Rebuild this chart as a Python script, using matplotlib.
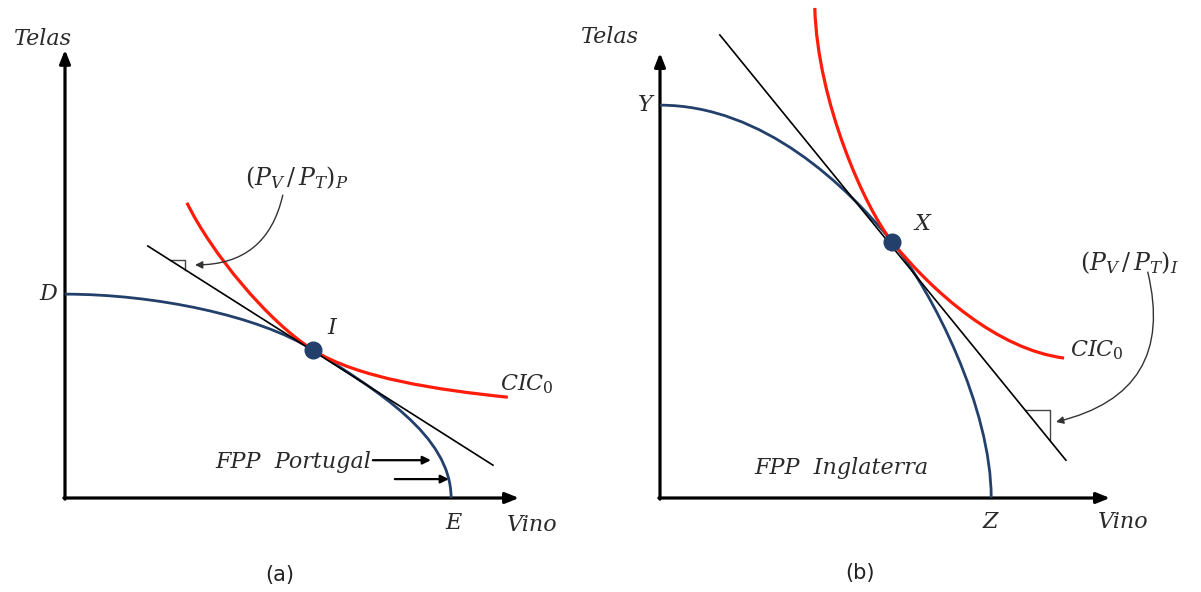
import matplotlib
matplotlib.use('Agg')
import matplotlib.pyplot as plt
from matplotlib.path import Path
from matplotlib.patches import PathPatch

plt.rcParams['mathtext.fontset'] = 'dejavuserif'

NAVY = '#22406b'
RED = '#ff1c0a'

# panel (a): Portugal, units of the drawing grid
a_axis_top = 9.96
a_axis_right = 10.09
a_fpp = [(0.0, 4.53), (2.0, 4.53), (4.31, 4.05), (5.51, 3.29),
         (6.91, 2.40), (8.58, 1.40), (8.58, 0.0)]
a_cic = [(2.71, 6.56), (3.25, 5.45), (4.5, 3.93), (5.51, 3.29),
         (6.5, 2.66), (8.3, 2.4), (9.84, 2.24)]
a_tangent_x = [1.84, 9.51]
a_tangent_y = [5.60, 0.73]
a_point = (5.51, 3.29)
a_box_x = [2.33, 2.67, 2.67]
a_box_y = [5.28, 5.28, 5.06]

# panel (b): Inglaterra
b_axis_top = 9.89
b_axis_right = 10.0
b_fpp = [(0.0, 8.73), (2.3, 8.73), (4.16, 6.92), (5.16, 5.69),
         (6.06, 4.58), (7.36, 2.0), (7.36, 0.0)]
b_cic = [(3.44, 10.89), (3.5, 8.8), (4.56, 6.43), (5.16, 5.69),
         (6.06, 4.58), (7.5, 3.3), (8.98, 3.11)]
b_tangent_x = [1.33, 9.02]
b_tangent_y = [10.29, 0.84]
b_point = (5.16, 5.69)
b_box_x = [8.11, 8.67, 8.67]
b_box_y = [1.96, 1.96, 1.27]


def curve(ax, pts, color, lw):
    codes = [Path.MOVETO] + [Path.CURVE4] * (len(pts) - 1)
    ax.add_patch(PathPatch(Path(pts, codes), facecolor='none', edgecolor=color,
                           lw=lw, capstyle='butt', zorder=3))


def axes_arrows(ax, top, right):
    kw = dict(arrowstyle='-|>,head_length=0.5,head_width=0.2', lw=2.3,
              color='black', mutation_scale=16, shrinkA=0, shrinkB=0)
    ax.annotate('', xy=(0, top), xytext=(0, -0.025), arrowprops=kw)
    ax.annotate('', xy=(right, 0), xytext=(-0.025, 0), arrowprops=kw)


def label(ax, x, y, s, size=16):
    ax.text(x, y, s, fontsize=size, family='DejaVu Serif', style='italic',
            ha='center', va='center', color='#2a2a2a')


def small_arrow(ax, start, end, color='black', lw=1.6, rad=0.0, scale=12):
    ax.annotate('', xy=end, xytext=start,
                arrowprops=dict(arrowstyle='-|>', lw=lw, color=color,
                                mutation_scale=scale, shrinkA=0, shrinkB=0,
                                connectionstyle='arc3,rad=%s' % rad))


fig = plt.figure(figsize=(12.01, 5.92), dpi=100)
ax_a = fig.add_axes([0, 0, 600 / 1201, 1])
ax_b = fig.add_axes([600 / 1201, 0, 601 / 1201, 1])
ax_a.set_xlim(-65 / 45, 535 / 45)
ax_b.set_xlim(-60 / 45, 541 / 45)
for ax in (ax_a, ax_b):
    ax.set_ylim(-94 / 45, 498 / 45)
    ax.axis('off')

# ---- panel (a)
axes_arrows(ax_a, a_axis_top, a_axis_right)
curve(ax_a, a_fpp, NAVY, 2.0)
ax_a.plot(a_tangent_x, a_tangent_y, color='black', lw=1.2, zorder=4)
curve(ax_a, a_cic, RED, 2.3)
ax_a.plot(*a_point, 'o', ms=12, color=NAVY, zorder=6)
ax_a.plot(a_box_x, a_box_y, color='#444444', lw=1.0)
small_arrow(ax_a, (4.84, 6.73), (2.89, 5.18), color='#333333', lw=1.0, rad=-0.4, scale=11)
small_arrow(ax_a, (6.84, 0.84), (8.13, 0.84))
small_arrow(ax_a, (7.33, 0.42), (8.53, 0.42))

label(ax_a, -0.49, 10.2, 'Telas')
label(ax_a, -0.38, 4.53, 'D')
label(ax_a, 8.64, -0.56, 'E')
label(ax_a, 10.38, -0.6, 'Vino')
label(ax_a, 5.93, 3.78, 'I')
label(ax_a, 5.16, 7.11, r'$(P_V\,/\,P_T)_P$', 17)
label(ax_a, 10.27, 2.52, r'$CIC_0$', 16)
ax_a.text(6.8, 0.8, 'FPP  Portugal', fontsize=16, family='DejaVu Serif',
          style='italic', ha='right', va='center', color='#2a2a2a')
ax_a.text(4.78, -1.71, '(a)', fontsize=15, family='DejaVu Sans',
          ha='center', va='center', color='#222222')

# ---- panel (b)
axes_arrows(ax_b, b_axis_top, b_axis_right)
curve(ax_b, b_fpp, NAVY, 2.0)
ax_b.plot(b_tangent_x, b_tangent_y, color='black', lw=1.2, zorder=4)
curve(ax_b, b_cic, RED, 2.3)
ax_b.plot(*b_point, 'o', ms=12, color=NAVY, zorder=6)
ax_b.plot(b_box_x, b_box_y, color='#444444', lw=1.0)
small_arrow(ax_b, (10.84, 5.02), (8.8, 1.69), color='#333333', lw=1.0, rad=-0.5, scale=11)

label(ax_b, -1.11, 10.24, 'Telas')
label(ax_b, -0.33, 8.73, 'Y')
label(ax_b, 7.33, -0.53, 'Z')
label(ax_b, 10.29, -0.53, 'Vino')
label(ax_b, 5.82, 6.09, 'X')
label(ax_b, 10.44, 5.22, r'$(P_V\,/\,P_T)_I$', 17)
label(ax_b, 9.71, 3.29, r'$CIC_0$', 16)
label(ax_b, 4.04, 0.67, 'FPP  Inglaterra')
ax_b.text(4.44, -1.67, '(b)', fontsize=15, family='DejaVu Sans',
          ha='center', va='center', color='#222222')

fig.savefig('out.png', dpi=100, facecolor='white')
